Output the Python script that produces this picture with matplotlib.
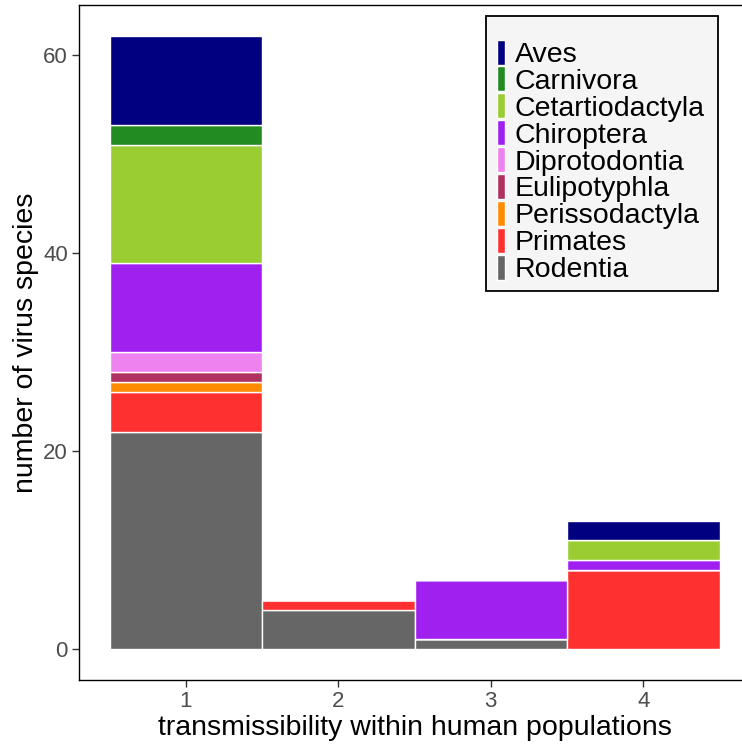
import numpy as np
import matplotlib.pyplot as plt
from matplotlib.patches import Rectangle

plt.rcParams['font.family'] = ['Liberation Sans', 'DejaVu Sans']

# transmissibility levels on the x axis
levels = [1, 2, 3, 4]

# host orders, bottom of the stack first
orders = ['Rodentia', 'Primates', 'Perissodactyla', 'Eulipotyphla',
          'Diprotodontia', 'Chiroptera', 'Cetartiodactyla', 'Carnivora', 'Aves']
colors = ['#666666', '#FF3030', '#FF8C00', '#B03060',
          '#EE82EE', '#A020F0', '#9ACD32', '#228B22', '#000080']

# virus species counts per order at levels 1..4
rodentia = [22, 4, 1, 0]
primates = [4, 1, 0, 8]
perissodactyla = [1, 0, 0, 0]
eulipotyphla = [1, 0, 0, 0]
diprotodontia = [2, 0, 0, 0]
chiroptera = [9, 0, 6, 1]
cetartiodactyla = [12, 0, 0, 2]
carnivora = [2, 0, 0, 0]
aves = [9, 0, 0, 2]

counts = [rodentia, primates, perissodactyla, eulipotyphla, diprotodontia,
          chiroptera, cetartiodactyla, carnivora, aves]

W, H = 742, 744
fig = plt.figure(figsize=(W / 100, H / 100), dpi=100)
ax = fig.add_axes([79 / W, 64 / H, 671 / W, 675 / H])

bottom = np.zeros(len(levels))
for name, vals, col in zip(orders, counts, colors):
    vals = np.array(vals, dtype=float)
    ax.bar(levels, vals, width=1.0, bottom=bottom, color=col,
           edgecolor='white', linewidth=1.0, label=name)
    bottom += vals

ymax = bottom.max()
ax.set_xlim(0.3, 4.7)
ax.set_ylim(-0.05 * ymax, ymax * 1.05)
ax.set_xticks(levels)
ax.set_yticks([0, 20, 40, 60])

for s in ax.spines.values():
    s.set_color('black')
    s.set_linewidth(1.0)
ax.tick_params(axis='both', colors='#333333', labelcolor='#4D4D4D',
               labelsize=16, length=5, width=1, pad=3)

ax.set_xlabel('transmissibility within human populations', fontsize=20.5,
              labelpad=2)
ax.set_ylabel('number of virus species', fontsize=20.5, labelpad=3)

# legend box drawn by hand (pixel layout, top-left origin)
def fx(px):
    return px / W

def fy(py):
    return 1 - py / H

fig.patches.append(Rectangle((fx(486), fy(291)), fx(232), 275 / H,
                             transform=fig.transFigure, facecolor='#F5F5F5',
                             edgecolor='black', linewidth=1.3, zorder=5))
row0, pitch = 52, 26.9
for i, (name, col) in enumerate(zip(orders[::-1], colors[::-1])):
    yc = row0 + i * pitch
    fig.patches.append(Rectangle((fx(497), fy(yc + 12.5)), fx(7.5), 25 / H,
                                 transform=fig.transFigure, facecolor=col,
                                 edgecolor='white', linewidth=1.0, zorder=6))
    fig.text(fx(515), fy(yc), name, fontsize=20.5, va='center_baseline',
             ha='left', zorder=7)

fig.savefig('out.png', dpi=100)
